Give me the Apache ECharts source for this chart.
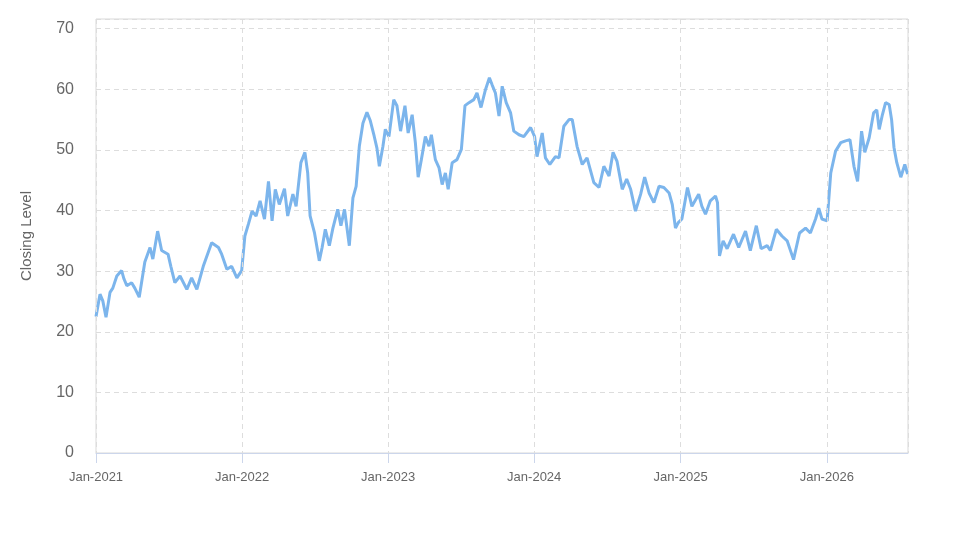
<!DOCTYPE html>
<html>
<head>
<meta charset="utf-8">
<script src="https://cdn.jsdelivr.net/npm/echarts@6/dist/echarts.min.js"></script>
<style>
  html, body { margin: 0; padding: 0; background: #fff; }
  #closing-chart { width: 973px; height: 547px; }
</style>
</head>
<body>
<div id="closing-chart"></div>
<script>
// closing level readings
const dates = [
  "2021-01-01", "2021-01-11", "2021-01-18", "2021-01-26", "2021-02-05", "2021-02-12", "2021-02-22", "2021-03-06",
  "2021-03-12", "2021-03-19", "2021-03-31", "2021-04-08", "2021-04-19", "2021-05-03", "2021-05-16", "2021-05-23",
  "2021-06-04", "2021-06-14", "2021-06-30", "2021-07-07", "2021-07-17", "2021-07-30", "2021-08-16", "2021-08-28",
  "2021-09-10", "2021-09-26", "2021-10-17", "2021-11-03", "2021-11-11", "2021-11-24", "2021-12-06", "2021-12-19",
  "2021-12-31",
  "2022-01-08", "2022-01-17", "2022-01-26", "2022-02-05", "2022-02-15", "2022-02-26", "2022-03-08", "2022-03-17",
  "2022-03-25", "2022-04-04", "2022-04-17", "2022-04-25", "2022-05-08", "2022-05-16", "2022-05-28", "2022-06-07",
  "2022-06-14", "2022-06-20", "2022-07-01", "2022-07-13", "2022-07-20", "2022-07-28", "2022-08-07", "2022-08-16",
  "2022-08-28", "2022-09-05", "2022-09-14", "2022-09-26", "2022-10-05", "2022-10-13", "2022-10-21", "2022-10-30",
  "2022-11-09", "2022-11-17", "2022-11-27", "2022-12-04", "2022-12-10", "2022-12-19", "2022-12-25",
  "2023-01-03", "2023-01-15", "2023-01-23", "2023-02-01", "2023-02-12", "2023-02-20", "2023-03-02", "2023-03-10",
  "2023-03-17", "2023-03-25", "2023-04-04", "2023-04-13", "2023-04-19", "2023-04-29", "2023-05-08", "2023-05-16",
  "2023-05-24", "2023-05-31", "2023-06-10", "2023-06-22", "2023-07-03", "2023-07-12", "2023-07-22", "2023-08-03",
  "2023-08-11", "2023-08-21", "2023-09-01", "2023-09-11", "2023-09-18", "2023-09-26", "2023-10-05", "2023-10-13",
  "2023-10-23", "2023-11-03", "2023-11-11", "2023-11-24", "2023-12-06", "2023-12-23",
  "2024-01-02", "2024-01-08", "2024-01-21", "2024-01-29", "2024-02-09", "2024-02-23", "2024-03-03", "2024-03-15",
  "2024-03-28", "2024-04-05", "2024-04-17", "2024-04-30", "2024-05-12", "2024-05-29", "2024-06-11", "2024-06-23",
  "2024-07-06", "2024-07-16", "2024-07-26", "2024-08-08", "2024-08-19", "2024-08-29", "2024-09-10", "2024-09-23",
  "2024-10-03", "2024-10-14", "2024-10-26", "2024-11-08", "2024-11-20", "2024-12-03", "2024-12-11", "2024-12-19",
  "2024-12-26",
  "2025-01-04", "2025-01-18", "2025-01-29", "2025-02-15", "2025-02-23", "2025-03-04", "2025-03-16", "2025-03-29",
  "2025-04-03", "2025-04-08", "2025-04-17", "2025-04-27", "2025-05-13", "2025-05-26", "2025-06-12", "2025-06-24",
  "2025-07-09", "2025-07-21", "2025-08-05", "2025-08-13", "2025-08-28", "2025-09-11", "2025-09-24", "2025-10-10",
  "2025-10-25", "2025-11-09", "2025-11-21", "2025-12-04", "2025-12-12", "2025-12-20",
  "2026-01-02", "2026-01-11", "2026-01-23", "2026-02-05", "2026-02-17", "2026-02-28", "2026-03-10", "2026-03-19",
  "2026-03-29", "2026-04-06", "2026-04-17", "2026-04-28", "2026-05-06", "2026-05-12", "2026-05-20", "2026-05-28",
  "2026-06-06", "2026-06-12", "2026-06-18", "2026-06-25", "2026-07-05", "2026-07-15", "2026-07-22"
];

const closes = [
  22.5, 26.2, 25.1, 22.4, 26.5, 27.2, 29.2, 30.1,
  28.7, 27.6, 28.1, 27.2, 25.7, 31.5, 33.9, 32.0,
  36.6, 33.4, 32.8, 30.8, 28.1, 29.2, 27.0, 28.9,
  27.0, 30.8, 34.7, 33.9, 32.8, 30.3, 30.8, 28.9,
  30.1,
  35.8, 37.8, 39.9, 39.1, 41.6, 38.6, 44.8, 38.3,
  43.5, 41.0, 43.6, 39.1, 42.7, 40.7, 47.9, 49.6,
  46.2, 39.1, 36.3, 31.7, 33.9, 36.9, 34.2, 37.1,
  40.2, 37.5, 40.2, 34.2, 42.1, 44.0, 50.6, 54.4,
  56.2, 54.9, 52.3, 50.3, 47.3, 50.6, 53.4,
  52.2, 58.3, 57.3, 53.1, 57.3, 52.8, 55.8, 51.2,
  45.5, 48.4, 52.2, 50.6, 52.5, 48.4, 47.1, 44.3,
  46.2, 43.5, 47.9, 48.4, 50.1, 57.3, 57.8, 58.3,
  59.4, 57.0, 59.9, 61.9, 60.7, 59.4, 55.6, 60.5,
  57.8, 56.1, 53.1, 52.5, 52.2, 53.7,
  52.2, 48.9, 52.8, 48.7, 47.6, 48.9, 48.7, 53.9,
  55.0, 55.0, 50.6, 47.6, 48.7, 44.6, 43.8, 47.3,
  45.7, 49.6, 48.1, 43.5, 45.2, 43.5, 39.9, 42.7,
  45.5, 42.9, 41.3, 44.0, 43.8, 42.9, 41.0, 37.1,
  38.0,
  38.6, 43.8, 40.7, 42.7, 40.7, 39.4, 41.6, 42.4,
  41.3, 32.5, 35.0, 33.7, 36.1, 33.9, 36.6, 33.4,
  37.5, 33.7, 34.2, 33.4, 36.9, 35.8, 35.0, 31.9,
  36.3, 37.1, 36.3, 38.6, 40.4, 38.6,
  38.3, 46.2, 49.8, 51.2, 51.5, 51.7, 47.3, 44.8,
  53.1, 49.6, 52.0, 56.1, 56.6, 53.4, 55.8, 57.8,
  57.5, 55.0, 50.4, 47.9, 45.5, 47.6, 46.0
];

const yTicks = [0, 10, 20, 30, 40, 50, 60, 70];
const monthNames = ["Jan", "Feb", "Mar", "Apr", "May", "Jun", "Jul", "Aug", "Sep", "Oct", "Nov", "Dec"];

const chart = echarts.init(document.getElementById("closing-chart"), null, { renderer: "canvas" });

chart.setOption({
  animation: false,
  backgroundColor: "#ffffff",
  textStyle: { fontFamily: "Liberation Sans, Arial, sans-serif" },
  grid: {
    left: 96,
    right: 65,
    top: 19,
    bottom: 94,
    show: true,
    borderColor: "#d9d9d9",
    borderWidth: 1
  },
  xAxis: {
    type: "time",
    min: "2021-01-01",
    max: "2026-07-23",
    minInterval: 360 * 24 * 3600 * 1000,
    maxInterval: 366 * 24 * 3600 * 1000,
    z: 5,
    axisLine: { lineStyle: { color: "#ccd6eb", width: 1 } },
    axisTick: { show: true, length: 10, lineStyle: { color: "#ccd6eb" } },
    axisLabel: {
      color: "#666666",
      fontSize: 13,
      margin: 18,
      showMaxLabel: false,
      hideOverlap: false,
      formatter: (val) => {
        const d = new Date(val);
        return monthNames[d.getMonth()] + "-" + d.getFullYear();
      }
    },
    splitLine: { show: true, lineStyle: { color: "#dddddd", type: [5, 4] } }
  },
  yAxis: {
    type: "value",
    min: yTicks[0],
    max: 71.6,
    interval: 10,
    name: "Closing Level",
    nameLocation: "middle",
    nameGap: 62,
    nameTextStyle: { color: "#666666", fontSize: 15 },
    axisLine: { show: false },
    axisTick: { show: false },
    axisLabel: {
      color: "#666666",
      fontSize: 16,
      margin: 22,
      showMaxLabel: false,
      formatter: (v) => (yTicks.includes(v) ? String(v) : "")
    },
    splitLine: { show: true, lineStyle: { color: "#dddddd", type: [5, 4] } }
  },
  series: [
    {
      name: "Closing Level",
      type: "line",
      showSymbol: false,
      smooth: false,
      lineStyle: { color: "#7cb5ec", width: 3 },
      itemStyle: { color: "#7cb5ec" },
      data: dates.map((d, i) => [d, closes[i]])
    }
  ]
});
</script>
</body>
</html>
